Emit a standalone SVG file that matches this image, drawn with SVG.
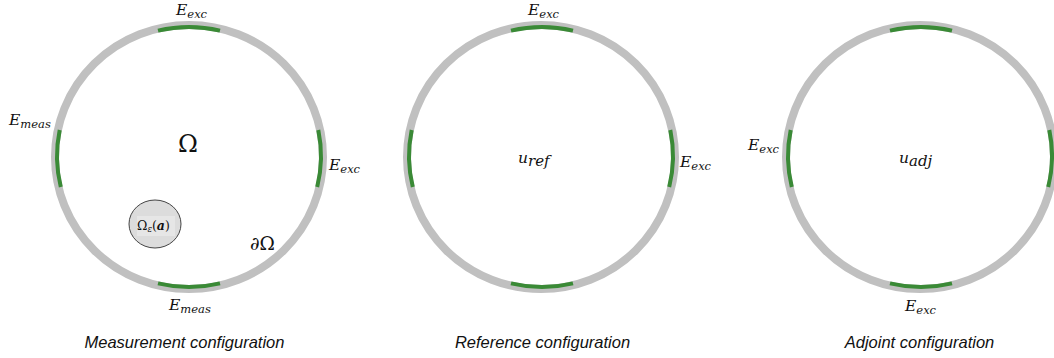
<svg xmlns="http://www.w3.org/2000/svg" width="1054" height="358" viewBox="0 0 1054 358">
<style>
.ring{fill:none;stroke:#c0c0c0;stroke-width:8}
.el{fill:none;stroke:#3a8a36;stroke-width:4}
.m{font-family:"DejaVu Serif","Liberation Serif",serif;font-style:italic;font-size:15.5px;fill:#111}
.sub{font-size:11.5px}
.up{font-family:"DejaVu Serif","Liberation Serif",serif;fill:#111}
.cap{font-family:"Liberation Sans",Arial,sans-serif;font-style:italic;font-size:16.5px;fill:#111;text-anchor:middle}
</style>
<rect width="1054" height="358" fill="#ffffff"/>

<g id="measurement">
  <ellipse class="ring" cx="189" cy="157" rx="134" ry="132"/>
  <path class="el" d="M158,30.6 A132,130 0 0 1 220,30.6"/>
  <path class="el" d="M158,283.4 A132,130 0 0 0 220,283.4"/>
  <path class="el" d="M59.7,130 A132,130 0 0 0 60.8,187"/>
  <path class="el" d="M318.3,130 A132,130 0 0 1 317.2,187"/>
  <text class="m" x="176" y="15">E<tspan class="sub" dy="3">exc</tspan></text>
  <text class="m" x="9" y="125">E<tspan class="sub" dy="3">meas</tspan></text>
  <text class="m" x="329" y="170">E<tspan class="sub" dy="3">exc</tspan></text>
  <text class="m" x="169" y="310">E<tspan class="sub" dy="3">meas</tspan></text>
  <text class="up" x="188" y="152" font-size="24" text-anchor="middle">Ω</text>
  <text class="up" x="250" y="250" font-size="18.5">∂Ω</text>
  <g id="inclusion">
    <ellipse cx="155" cy="224" rx="26" ry="24" fill="#dcdcdc" stroke="#444" stroke-width="1"/>
    <rect x="137" y="216" width="38" height="20" fill="#e6e6e6"/>
    <text class="up" x="137" y="230" font-size="12.5">Ω<tspan font-style="italic" font-size="8.5" dy="2">ε</tspan><tspan dy="-2">(</tspan><tspan font-style="italic" font-weight="bold">a</tspan>)</text>
  </g>
  <text class="cap" x="184.5" y="348">Measurement configuration</text>
</g>

<g id="reference">
  <ellipse class="ring" cx="541" cy="157" rx="134" ry="132"/>
  <path class="el" d="M511,30.6 A132,130 0 0 1 573,30.6"/>
  <path class="el" d="M511,283.4 A132,130 0 0 0 573,283.4"/>
  <path class="el" d="M411.7,130 A132,130 0 0 0 412.8,187"/>
  <path class="el" d="M670.3,130 A132,130 0 0 1 669.2,187"/>
  <text class="m" x="528" y="15">E<tspan class="sub" dy="3">exc</tspan></text>
  <text class="m" x="680" y="167">E<tspan class="sub" dy="3">exc</tspan></text>
  <text class="m" x="518" y="163" font-size="22">u<tspan font-size="15" dy="3">ref</tspan></text>
  <text class="cap" x="542.5" y="348">Reference configuration</text>
</g>

<g id="adjoint">
  <ellipse class="ring" cx="920" cy="157" rx="134" ry="132"/>
  <path class="el" d="M890,30.6 A132,130 0 0 1 952,30.6"/>
  <path class="el" d="M890,283.4 A132,130 0 0 0 952,283.4"/>
  <path class="el" d="M790.7,130 A132,130 0 0 0 791.8,187"/>
  <path class="el" d="M1049.3,130 A132,130 0 0 1 1048.2,187"/>
  <text class="m" x="748" y="150">E<tspan class="sub" dy="3">exc</tspan></text>
  <text class="m" x="905" y="311">E<tspan class="sub" dy="3">exc</tspan></text>
  <text class="m" x="899" y="163" font-size="22">u<tspan font-size="15" dy="3">adj</tspan></text>
  <text class="cap" x="919.5" y="348">Adjoint configuration</text>
</g>

<g id="connectors"></g>
</svg>
